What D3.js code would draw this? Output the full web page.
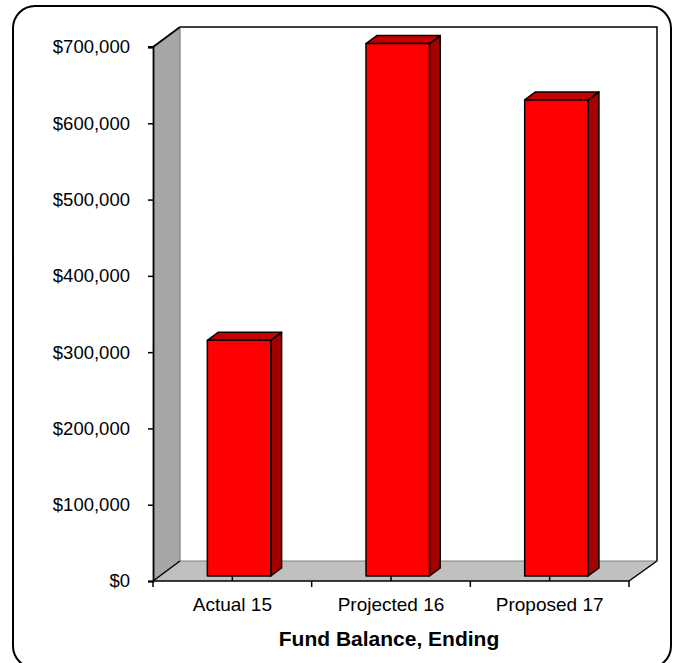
<!DOCTYPE html>
<html>
<head>
<meta charset="utf-8">
<script src="https://cdn.jsdelivr.net/npm/d3@7"></script>
<style>
  html, body { margin: 0; padding: 0; background: #fff; }
  svg { display: block; }
  text { font-family: "Liberation Sans", Arial, sans-serif; fill: #000; }
</style>
</head>
<body>
<svg id="chart" width="675" height="663"></svg>
<script>
// Chart data
const categories = ["Actual 15", "Projected 16", "Proposed 17"];
const values = [309000, 698000, 624000];
const yTicks = [0, 100000, 200000, 300000, 400000, 500000, 600000, 700000];
const axisTitle = "Fund Balance, Ending";

const svg = d3.select("#chart");

// Frame
svg.append("rect")
  .attr("x", 13).attr("y", 6)
  .attr("width", 658).attr("height", 662)
  .attr("rx", 22).attr("ry", 22)
  .attr("fill", "#fff").attr("stroke", "#000").attr("stroke-width", 2);

// Plot geometry (front plane) and depth vector for the 3D look
const x0 = 153, x1 = 629, yBase = 581, yTop = 47;
const DX = 27, DY = -20;
const f0 = 0.25, f1 = 0.65; // bar front / back depth fractions

const y = d3.scaleLinear().domain([0, 700000]).range([yBase, yTop]);
const x = d3.scaleBand().domain(categories).range([x0, x1])
  .paddingInner(0.6).paddingOuter(0.3);

const line = d3.line();

// Back wall
svg.append("path")
  .attr("d", line([[x0 + DX, yTop + DY], [x1 + DX, yTop + DY], [x1 + DX, yBase + DY], [x0 + DX, yBase + DY]]) + "Z")
  .attr("fill", "#fff").attr("stroke", "none");
svg.append("path")
  .attr("d", line([[x0 + DX, yTop + DY], [x1 + DX + 1, yTop + DY], [x1 + DX + 1, yBase + DY]]))
  .attr("fill", "none").attr("stroke", "#000").attr("stroke-width", 1.5);

// Left wall
svg.append("path")
  .attr("d", line([[x0, yTop], [x0 + DX, yTop + DY], [x0 + DX, yBase + DY], [x0, yBase]]) + "Z")
  .attr("fill", "#a6a6a6").attr("stroke", "none");
svg.append("path")
  .attr("d", line([[x0 + DX, yTop + DY], [x0 + DX, yBase + DY]]))
  .attr("stroke", "#808080").attr("stroke-width", 1.2);
svg.append("path")
  .attr("d", line([[x0 - 5, yTop], [x0, yTop], [x0 + DX, yTop + DY]]))
  .attr("fill", "none").attr("stroke", "#000").attr("stroke-width", 1.8);

// Floor
svg.append("path")
  .attr("d", line([[x0, yBase], [x0 + DX, yBase + DY], [x1 + DX + 1, yBase + DY], [x1, yBase]]) + "Z")
  .attr("fill", "#c0c0c0").attr("stroke", "none");
svg.append("path")
  .attr("d", line([[x0 + DX, yBase + DY], [x1 + DX + 1, yBase + DY]]))
  .attr("stroke", "#808080").attr("stroke-width", 1.2);
svg.append("path")
  .attr("d", line([[x0, yBase], [x0 + DX, yBase + DY]]))
  .attr("stroke", "#000").attr("stroke-width", 1.5);
svg.append("path")
  .attr("d", line([[x1, yBase], [x1 + DX + 1, yBase + DY]]))
  .attr("stroke", "#000").attr("stroke-width", 1.5);

// Bars (front face, top, side)
const bars = svg.append("g");
categories.forEach((c, i) => {
  const v = values[i];
  const bx0 = x(c) + DX * f0, bx1 = x(c) + x.bandwidth() + DX * f0;
  const by0 = y(v) + DY * f0, by1 = yBase + DY * f0;
  const ddx = DX * (f1 - f0), ddy = DY * (f1 - f0);
  const g = bars.append("g").attr("stroke", "#000").attr("stroke-width", 1.5)
    .attr("stroke-linejoin", "round");
  // side
  g.append("path")
    .attr("d", line([[bx1, by0], [bx1 + ddx, by0 + ddy], [bx1 + ddx, by1 + ddy], [bx1, by1]]) + "Z")
    .attr("fill", "#a50000");
  // top
  g.append("path")
    .attr("d", line([[bx0, by0], [bx0 + ddx, by0 + ddy], [bx1 + ddx, by0 + ddy], [bx1, by0]]) + "Z")
    .attr("fill", "#c80000");
  // front
  g.append("path")
    .attr("d", line([[bx0, by0], [bx1, by0], [bx1, by1], [bx0, by1]]) + "Z")
    .attr("fill", "#ff0000");
});

// Value axis
const yAxis = svg.append("g")
  .attr("transform", `translate(${x0},0)`)
  .call(d3.axisLeft(y).tickValues(yTicks).tickFormat(d3.format("$,")).tickSize(5).tickPadding(18));
yAxis.select(".domain").attr("stroke", "#000").attr("stroke-width", 1.8);
yAxis.selectAll(".tick line").attr("stroke", "#000").attr("stroke-width", 1.5);
yAxis.selectAll(".tick text")
  .style("font-family", '"Liberation Sans", Arial, sans-serif')
  .style("font-size", "18.5px").attr("fill", "#000");

// Category axis
const xAxis = svg.append("g")
  .attr("transform", `translate(0,${yBase})`)
  .call(d3.axisBottom(x).tickSize(0).tickPadding(17));
xAxis.select(".domain").remove();
xAxis.selectAll(".tick text")
  .style("font-family", '"Liberation Sans", Arial, sans-serif')
  .style("font-size", "19px").attr("fill", "#000");

const step = x.step();
const ax = svg.append("g").attr("stroke", "#000").attr("stroke-width", 1.5);
ax.append("line").attr("x1", x0).attr("x2", x1).attr("y1", yBase).attr("y2", yBase);
// major ticks on category boundaries, minor ticks on centres
d3.range(categories.length + 1).forEach(k => {
  const xx = x0 + k * step;
  ax.append("line").attr("x1", xx).attr("x2", xx).attr("y1", yBase).attr("y2", yBase + 6);
});
categories.forEach(c => {
  const xx = x(c) + x.bandwidth() / 2;
  ax.append("line").attr("x1", xx).attr("x2", xx).attr("y1", yBase).attr("y2", yBase - 5);
});

// Axis title
svg.append("text")
  .attr("x", (x0 + x1) / 2 - 2).attr("y", 646)
  .attr("text-anchor", "middle")
  .style("font-size", "21px").style("font-weight", "bold")
  .text(axisTitle);
</script>
</body>
</html>
